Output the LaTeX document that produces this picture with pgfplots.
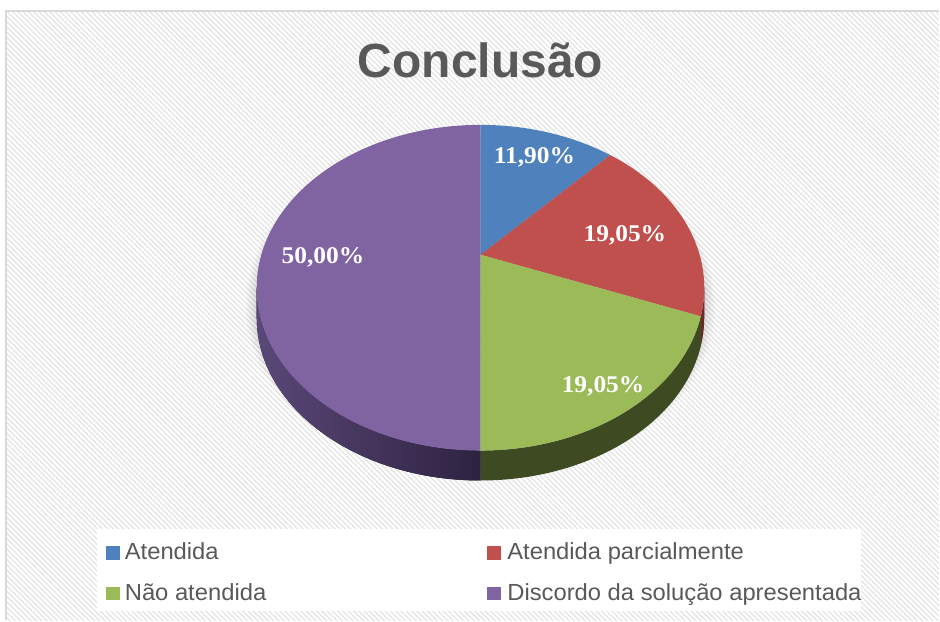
\documentclass[border=0pt]{standalone}
\usepackage{pgfplots}
\pgfplotsset{compat=1.18}
\usepackage{pgfplotstable}
\usepackage{fontspec}
\setmainfont{Liberation Sans}
\newfontfamily\valfont{Liberation Serif}[FakeStretch=1.06]
\newfontfamily\legfont{Liberation Sans}[FakeStretch=1.02]
\usetikzlibrary{patterns.meta}

\definecolor{pc0}{HTML}{4F81BD}
\definecolor{pc1}{HTML}{C0504D}
\definecolor{pc2}{HTML}{9BBB59}
\definecolor{pc3}{HTML}{8064A2}
\definecolor{sideR}{HTML}{6A2A28}
\definecolor{sideG}{HTML}{3E4A21}
\definecolor{sideP1}{HTML}{5A4878}
\definecolor{sideP2}{HTML}{2E2240}
\definecolor{txtgray}{HTML}{595959}
\definecolor{frame}{HTML}{D9D9D9}

% slice values (percent) and label anchor points (pixels)
\pgfplotstableread[col sep=comma]{
name,value,lx,ly
Atendida,11.90,535,164
Atendida parcialmente,19.05,625.5,241.7
Não atendida,19.05,603.7,393.3
Discordo da solução apresentada,50.00,323.3,264
}\piedata

% perspective: pie angle (clockwise from top) -> ellipse parameter
\newcommand\pieang[2]{%
  \pgfmathsetmacro\pX{sin(#1)}%
  \pgfmathsetmacro\pY{cos(#1)}%
  \pgfmathsetmacro\pD{1+0.202*\pY}%
  \pgfmathsetmacro#2{atan2((\pY+0.202)/\pD,\pX*0.9794/\pD)}%
}
\def\cum{0}
\pgfplotsforeachungrouped \i in {0,1,2,3}{%
  \pgfplotstablegetelem{\i}{value}\of\piedata
  \expandafter\xdef\csname val\i\endcsname{\pgfplotsretval}%
  \pgfmathsetmacro\thA{\cum}%
  \pgfmathsetmacro\thB{\cum+3.6*\pgfplotsretval}%
  \xdef\cum{\thB}%
  \pieang{\thA}\tA
  \pieang{\thB}\tB
  \pgfmathsetmacro\tB{\tB>\tA ? \tB-360 : \tB}%
  \pgfmathsetmacro\sA{min(\tA,0)}%
  \pgfmathsetmacro\sB{max(\tB,-180)}%
  \pgfmathsetmacro\sB{\sB>\sA ? \sA : \sB}%
  \expandafter\xdef\csname ts\i\endcsname{\tA}%
  \expandafter\xdef\csname te\i\endcsname{\tB}%
  \expandafter\xdef\csname ss\i\endcsname{\sA}%
  \expandafter\xdef\csname se\i\endcsname{\sB}%
  \pgfmathsetmacro\tmp{481+224*cos(\tA)}\expandafter\xdef\csname xs\i\endcsname{\tmp}%
  \pgfmathsetmacro\tmp{288-163*sin(\tA)}\expandafter\xdef\csname ys\i\endcsname{\tmp}%
  \pgfmathsetmacro\tmp{481+224*cos(\sA)}\expandafter\xdef\csname xss\i\endcsname{\tmp}%
  \pgfmathsetmacro\tmp{288-163*sin(\sA)}\expandafter\xdef\csname yss\i\endcsname{\tmp}%
  \pgfplotstablegetelem{\i}{lx}\of\piedata
  \expandafter\xdef\csname lx\i\endcsname{\pgfplotsretval}%
  \pgfplotstablegetelem{\i}{ly}\of\piedata
  \expandafter\xdef\csname ly\i\endcsname{\pgfplotsretval}%
}

\tikzset{
  side0/.style={fill=sideR},
  side1/.style={fill=sideR},
  side2/.style={fill=sideG},
  side3/.style={left color=sideP1, right color=sideP2},
  ell/.style={x radius=168pt, y radius=122.25pt},
}

\begin{document}
\begin{tikzpicture}
\begin{axis}[
    scale only axis,
    width=705pt, height=465.75pt,
    xmin=0, xmax=940, ymin=0, ymax=621,
    y dir=reverse,
    hide axis,
    clip=false,
    /pgf/number format/assume math mode=true,
]
% chart area
\fill[white] (axis cs:0,0) rectangle (axis cs:940,621);
\fill[white] (axis cs:6,11) rectangle (axis cs:940,621);
\fill[pattern={Lines[angle=-45,distance=2.8pt,line width=1pt]}, pattern color=black!10]
  (axis cs:6,11) rectangle (axis cs:940,621);
\draw[frame, line width=1.5pt] (axis cs:6,621) -- (axis cs:6,11) -- (axis cs:940,11);

% title
\node[anchor=base, text=txtgray, font=\bfseries\fontsize{36}{42}\selectfont]
  at (axis cs:481,77.7) {Conclusão};

% soft shadow
\pgfplotsinvokeforeach{1,2,3,4,5}{
  \fill[black, opacity=0.025] (axis cs:481,306)
    ellipse[x radius={(224+2.2*#1)*0.75pt}, y radius={(163+2.2*#1)*0.75pt}];
}

% sides
\pgfplotsinvokeforeach{0,1,2,3}{
  \fill[side#1] (axis cs:\csname xss#1\endcsname,\csname yss#1\endcsname)
    arc[ell, start angle=\csname ss#1\endcsname, end angle=\csname se#1\endcsname]
    -- ++(0pt,-22.5pt)
    arc[ell, start angle=\csname se#1\endcsname, end angle=\csname ss#1\endcsname]
    -- cycle;
}
% top faces
\pgfplotsinvokeforeach{0,1,2,3}{
  \fill[pc#1] (axis cs:481,255) -- (axis cs:\csname xs#1\endcsname,\csname ys#1\endcsname)
    arc[ell, start angle=\csname ts#1\endcsname, end angle=\csname te#1\endcsname]
    -- cycle;
}
% value labels
\pgfplotsinvokeforeach{0,1,2,3}{
  \node[anchor=base, text=white, font=\valfont\bfseries\fontsize{18}{20}\selectfont]
    at (axis cs:\csname lx#1\endcsname,\csname ly#1\endcsname)
    {\pgfmathprintnumber[fixed,fixed zerofill,precision=2,use comma]{\csname val#1\endcsname}\%};
}

% legend
\fill[white] (axis cs:97,530) rectangle (axis cs:862,612);
\fill[pc0] (axis cs:106.6,546.7) rectangle (axis cs:120.2,560.3);
\fill[pc1] (axis cs:488,546.7) rectangle (axis cs:501.6,560.3);
\fill[pc2] (axis cs:106.6,587.3) rectangle (axis cs:120.2,600.9);
\fill[pc3] (axis cs:488,587.3) rectangle (axis cs:501.6,600.9);
\begin{scope}[every node/.style={anchor=base west, inner sep=0pt, text=txtgray,
    font=\legfont\fontsize{17.5}{20}\selectfont}]
\node at (axis cs:124.7,560.5) {Atendida};
\node at (axis cs:507.6,560.5) {Atendida parcialmente};
\node at (axis cs:124.7,601) {Não atendida};
\node at (axis cs:507.6,601) {Discordo da solução apresentada};
\end{scope}
\end{axis}
\end{tikzpicture}
\end{document}
